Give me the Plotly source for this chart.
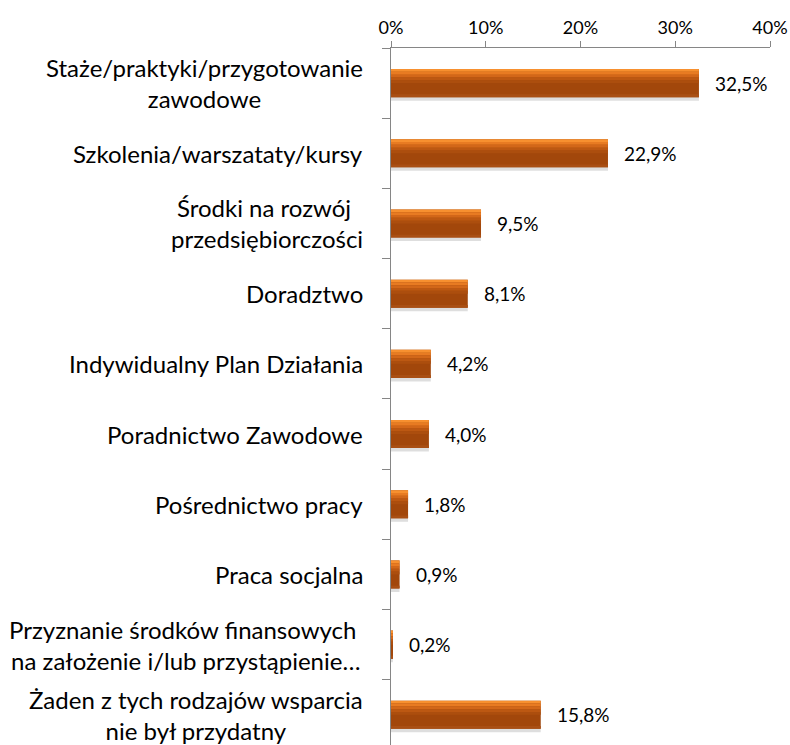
import plotly.graph_objects as go

categories = [
    "Staże/praktyki/przygotowanie<br>zawodowe",
    "Szkolenia/warszataty/kursy",
    "Środki na rozwój\u00a0<br>przedsiębiorczości",
    "Doradztwo",
    "Indywidualny Plan Działania",
    "Poradnictwo Zawodowe",
    "Pośrednictwo pracy",
    "Praca socjalna",
    "Przyznanie środków finansowych\u00a0<br>na założenie i/lub przystąpienie…",
    "Żaden z tych rodzajów wsparcia<br>nie był przydatny",
]
values = [32.5, 22.9, 9.5, 8.1, 4.2, 4.0, 1.8, 0.9, 0.2, 15.8]
tick_vals = [0, 10, 20, 30, 40]
tick_text = ["0%", "10%", "20%", "30%", "40%"]

ids = list(range(len(categories)))
FONT = "Lato"

fig = go.Figure()

# shadow
fig.add_trace(go.Bar(x=values, y=ids, orientation="h", width=0.4, offset=-0.15,
                     marker=dict(color="rgba(0,0,0,0.13)", line=dict(width=0)),
                     hoverinfo="skip"))
# main body
fig.add_trace(go.Bar(x=values, y=ids, orientation="h", width=0.4, offset=-0.2,
                     marker=dict(color="#A2470B", line=dict(width=0))))
# gradient strips (top highlight -> dark)
strips = [(-0.2, 0.04, "#F7902F"), (-0.16, 0.04, "#E87B22"), (-0.12, 0.04, "#D26719"),
          (-0.08, 0.04, "#BC5812"), (-0.04, 0.04, "#AC4E0E"), (0.16, 0.04, "#A94F14")]
for off, w, c in strips:
    fig.add_trace(go.Bar(x=values, y=ids, orientation="h", width=w, offset=off,
                         marker=dict(color=c, line=dict(width=0)), hoverinfo="skip"))

annotations = []
for i, (cat, v) in enumerate(zip(categories, values)):
    annotations.append(dict(x=0, xref="paper", y=i, yref="y", text=cat,
                            xanchor="right", yanchor="middle", align="center",
                            xshift=-26, showarrow=False,
                            font=dict(family=FONT, size=24, color="#000000")))
    annotations.append(dict(x=v, xref="x", y=i, yref="y",
                            text=f"{v:.1f}".replace(".", ",") + "%",
                            xanchor="left", yanchor="middle", xshift=14,
                            showarrow=False,
                            font=dict(family=FONT, size=19, color="#000000")))

fig.update_layout(
    width=790, height=745,
    margin=dict(l=391, r=20, t=48, b=0),
    paper_bgcolor="white", plot_bgcolor="white",
    barmode="overlay", showlegend=False,
    annotations=annotations,
    xaxis=dict(side="top", range=[0, 40], tickvals=tick_vals, ticktext=tick_text,
               showline=True, linecolor="#868686", linewidth=1,
               ticks="outside", ticklen=6, tickcolor="#868686",
               showgrid=False, zeroline=False, automargin=False,
               tickfont=dict(family=FONT, size=18, color="#000000")),
    yaxis=dict(type="linear", range=[9.43, -0.5], showticklabels=False,
               tickvals=[k - 0.5 for k in range(len(categories) + 1)],
               showline=True, linecolor="#868686", linewidth=1,
               ticks="outside", ticklen=8, tickcolor="#868686",
               showgrid=False, zeroline=False, automargin=False),
)

fig.write_html(
    "out.html",
    config={"displayModeBar": False},
    post_script="document.body.style.margin='0px';document.body.style.overflow='hidden';",
)
